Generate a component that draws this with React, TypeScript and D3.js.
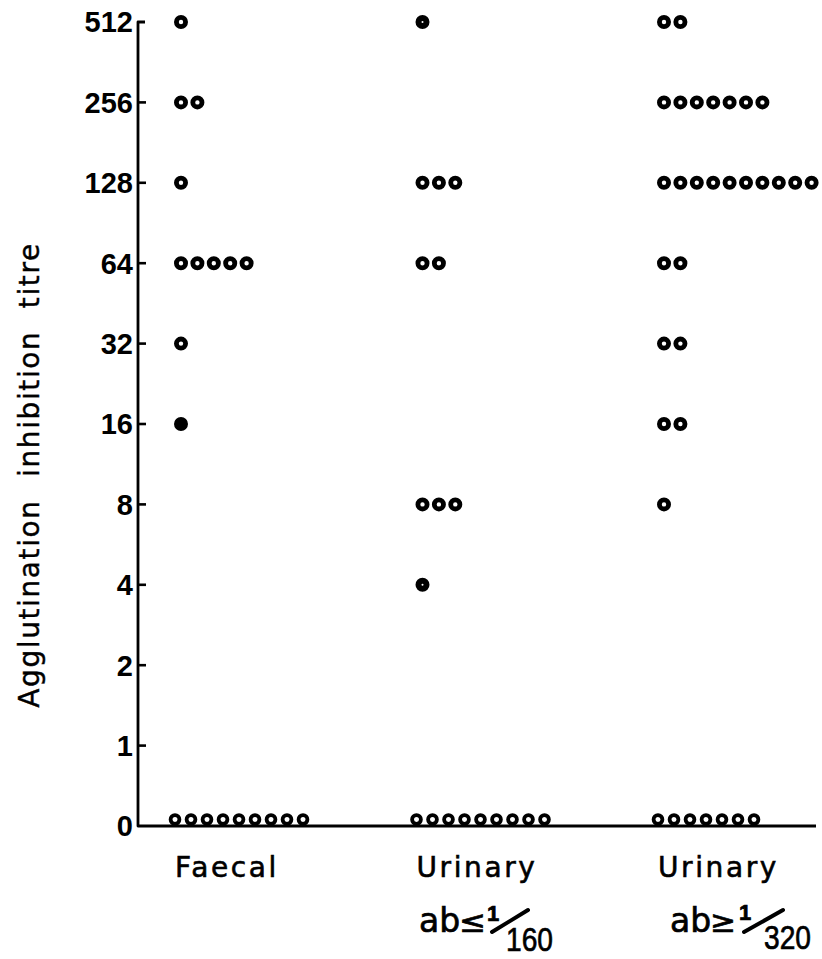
import React from "react";
import * as d3 from "d3";

// Titre levels on the vertical axis (bottom to top)
const levels = ["0", "1", "2", "4", "8", "16", "32", "64", "128", "256", "512"];

// Groups along the horizontal axis
const groups = ["Faecal", "UrinaryLow", "UrinaryHigh"];
const groupLabels = ["Faecal", "Urinary", "Urinary"];

// Number of specimens at each titre level (aligned with `levels`)
const faecalCounts = [9, 0, 0, 0, 0, 1, 1, 5, 1, 2, 1];
const urinaryLowCounts = [9, 0, 0, 1, 3, 0, 0, 2, 3, 0, 1];
const urinaryHighCounts = [7, 0, 0, 0, 1, 2, 2, 2, 10, 7, 2];

// Solid (fully filled) markers: [group, level]
const solidMarks: [string, string][] = [["Faecal", "16"]];
// Heavily inked markers with only a pin-hole centre
const heavyMarks: [string, string][] = [["UrinaryLow", "512"], ["UrinaryLow", "4"]];

const countsByGroup: Record<string, number[]> = {
  Faecal: faecalCounts,
  UrinaryLow: urinaryLowCounts,
  UrinaryHigh: urinaryHighCounts,
};

const W = 822;
const H = 959;
const axisX = 138;
const FONT = "'DejaVu Sans', sans-serif";
const NUMFONT = "'Liberation Sans', Arial, sans-serif";

const has = (list: [string, string][], g: string, lv: string) =>
  list.some(([sg, sl]) => sg === g && sl === lv);

export default function App() {
  const y = d3.scalePoint<string>().domain(levels).range([826, 22]);
  const x = d3.scalePoint<string>().domain(groups).range([181, 664]);
  const baseY = y("0")!;
  const xEnd = 816;
  const step = 16.4;
  const zeroStep = 16;

  const dots: { cx: number; cy: number; r: number; sw: number; solid: boolean }[] = [];
  groups.forEach((g) => {
    const counts = countsByGroup[g];
    levels.forEach((lv, li) => {
      const n = counts[li];
      const solid = has(solidMarks, g, lv);
      const heavy = has(heavyMarks, g, lv);
      for (let i = 0; i < n; i++) {
        if (lv === "0") {
          dots.push({ cx: x(g)! - 6 + i * zeroStep, cy: baseY - 6.5, r: 4.4, sw: 3.8, solid: false });
        } else if (heavy) {
          dots.push({ cx: x(g)! + i * step, cy: y(lv)!, r: 4, sw: 6, solid });
        } else {
          dots.push({ cx: x(g)! + i * step, cy: y(lv)!, r: 4.6, sw: 4.8, solid });
        }
      }
    });
  });

  return (
    <svg
      width={W}
      height={H}
      viewBox={`0 0 ${W} ${H}`}
      style={{ position: "absolute", left: 0, top: 0, background: "#fff" }}
    >
      <rect x={0} y={0} width={W} height={H} fill="#fff" />

      {/* axes */}
      <path
        d={`M${axisX + 7},${y("512")!} L${axisX},${y("512")!} L${axisX},${baseY} L${xEnd},${baseY}`}
        fill="none"
        stroke="#000"
        strokeWidth={2.8}
        strokeLinejoin="round"
      />
      {levels
        .filter((lv) => lv !== "0" && lv !== "512")
        .map((lv) => (
          <line key={lv} x1={axisX} x2={axisX + 8} y1={y(lv)} y2={y(lv)} stroke="#000" strokeWidth={2.6} />
        ))}

      {/* tick labels */}
      {levels.map((lv) => (
        <text
          key={lv}
          x={axisX - 5}
          y={y(lv)}
          dy="0.36em"
          textAnchor="end"
          fontFamily={NUMFONT}
          fontWeight="bold"
          fontSize={29}
          fill="#000"
        >
          {lv}
        </text>
      ))}

      {/* y axis title */}
      <text
        transform={`translate(39,475) rotate(-90)`}
        textAnchor="middle"
        fontFamily={FONT}
        fontSize={28}
        letterSpacing={1.6}
        wordSpacing={12}
        fill="#000"
        stroke="#000"
        strokeWidth={0.4}
      >
        Agglutination inhibition titre
      </text>

      {/* markers */}
      {dots.map((d, i) => (
        <circle
          key={i}
          cx={d.cx}
          cy={d.cy}
          r={d.r}
          fill={d.solid ? "#000" : "#fff"}
          stroke="#000"
          strokeWidth={d.sw}
        />
      ))}

      {/* category labels */}
      {groups.map((g, i) => (
        <text
          key={g}
          x={x(g)! - 6}
          y={877}
          fontFamily={FONT}
          fontSize={28}
          letterSpacing={2.6}
          fill="#000"
          stroke="#000"
          strokeWidth={0.6}
        >
          {groupLabels[i]}
        </text>
      ))}

      {/* antibody qualifiers */}
      <g fill="#000" stroke="#000" strokeWidth={0.7}>
        <text x={419} y={932} fontFamily={FONT} fontSize={33}>ab</text>
        <text x={459} y={932} fontFamily={FONT} fontSize={30} textLength={27} lengthAdjust="spacingAndGlyphs">≤</text>
        <text x={487} y={921} fontFamily={NUMFONT} fontSize={22} fontWeight="bold">1</text>
        <line x1={492} y1={932} x2={528} y2={910} strokeWidth={4} strokeLinecap="round" />
        <text x={506} y={951} fontFamily={NUMFONT} fontSize={34} textLength={47} lengthAdjust="spacingAndGlyphs">160</text>

        <text x={670} y={932} fontFamily={FONT} fontSize={33}>ab</text>
        <text x={710} y={932} fontFamily={FONT} fontSize={30} textLength={26} lengthAdjust="spacingAndGlyphs">≥</text>
        <text x={739} y={920} fontFamily={NUMFONT} fontSize={22} fontWeight="bold">1</text>
        <line x1={744} y1={932} x2={783} y2={910} strokeWidth={4} strokeLinecap="round" />
        <text x={764} y={949} fontFamily={NUMFONT} fontSize={34} textLength={47} lengthAdjust="spacingAndGlyphs">320</text>
      </g>
    </svg>
  );
}
